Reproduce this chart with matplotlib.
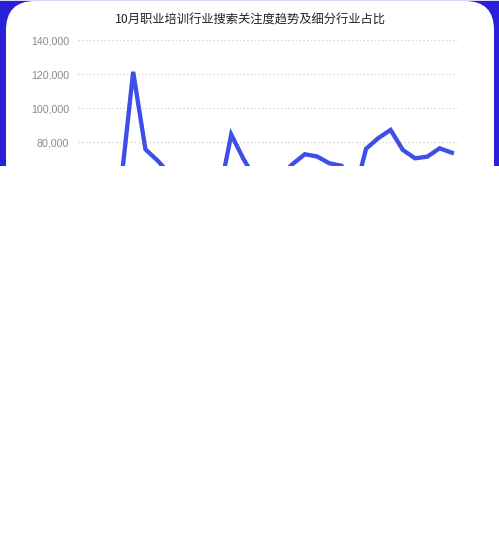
import matplotlib
matplotlib.use("Agg")
import matplotlib.pyplot as plt
from matplotlib.patches import Rectangle, FancyBboxPatch
from matplotlib.transforms import IdentityTransform
from matplotlib.ticker import FuncFormatter

# ---- data ----
days = [f"10-{d:02d}" for d in range(1, 32)]
search_index = [52000, 48000, 50000, 55000, 121300, 75700, 69000, 61000,
                52000, 50000, 51000, 48000, 84400, 70000, 58000, 55000,
                60000, 67000, 72800, 71500, 67500, 66000, 48000, 76000,
                82300, 87100, 75300, 70400, 71400, 76300, 73700]
y_ticks = [0, 20000, 40000, 60000, 80000, 100000, 120000, 140000]
title = "10月职业培训行业搜索关注度趋势及细分行业占比"

W, H, DPI = 499, 557, 100
fig = plt.figure(figsize=(W / DPI, H / DPI), dpi=DPI, facecolor="white")

cut = 166  # visible top band height in px

# blue background band
bg = Rectangle((0, H - cut), W, cut, transform=IdentityTransform(),
               facecolor="#2a1fd8", edgecolor="none", zorder=0)
fig.add_artist(bg)
# thin light line at very top
topline = Rectangle((0, H - 1), W, 1, transform=IdentityTransform(),
                    facecolor="#d8d6f6", edgecolor="none", zorder=0.5)
fig.add_artist(topline)
# white rounded card
card = FancyBboxPatch((6, H - cut - 80), 488, cut + 80 - 1,
                      boxstyle="round,pad=0,rounding_size=29",
                      transform=IdentityTransform(),
                      facecolor="white", edgecolor="none", zorder=0.6)
fig.add_artist(card)

# axes
top_px, bottom_px = 40, 278
left_px, right_px = 78, 458
ax = fig.add_axes([left_px / W, 1 - bottom_px / H,
                   (right_px - left_px) / W, (bottom_px - top_px) / H])
ax.set_zorder(1)
ax.patch.set_alpha(0)

x = list(range(len(days)))
ax.plot(x, search_index, color="#3d4fe6", lw=3.1, solid_joinstyle="miter",
        zorder=3)
ax.set_xlim(-0.5, len(days) - 0.5)
ax.set_ylim(0, 140000)
ax.set_yticks(y_ticks)
ax.yaxis.set_major_formatter(FuncFormatter(lambda v, p: f"{int(v):,}"))
ax.set_xticks(x[::5])
ax.set_xticklabels(days[::5])
for s in ax.spines.values():
    s.set_visible(False)
ax.tick_params(axis="both", length=0, pad=6.5, labelcolor="#8a8a8a",
               labelsize=7.7)
for lab in ax.get_yticklabels() + ax.get_xticklabels():
    lab.set_family("Liberation Sans")
ax.grid(axis="y", linestyle=(0, (1, 2)), color="#cfcfcf", lw=0.9)
ax.grid(axis="x", visible=False)
ax.set_axisbelow(True)

fig.text(250 / W, 1 - 20 / H, title, ha="center", va="center",
         fontsize=8.85, color="#222222",
         family=["Noto Sans CJK SC", "DejaVu Sans"])

# white cover for the cut-off lower part
cover = Rectangle((0, 0), W, H - cut, transform=IdentityTransform(),
                  facecolor="white", edgecolor="none", zorder=20)
fig.add_artist(cover)

fig.savefig("out.png", dpi=DPI, facecolor="white")
